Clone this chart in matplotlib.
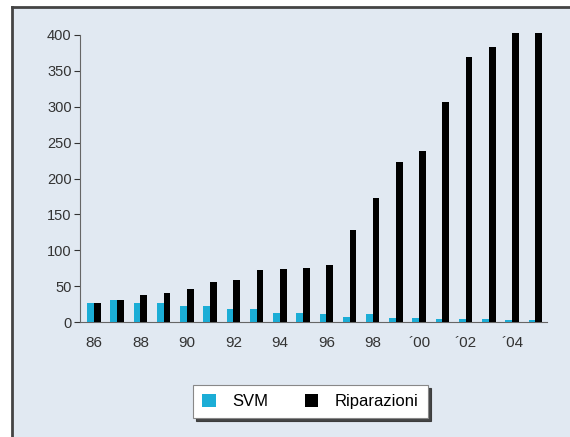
import matplotlib
matplotlib.use('Agg')
from matplotlib import pyplot as plt
from matplotlib.patches import Rectangle
from matplotlib.lines import Line2D
import numpy as np

plt.rcParams['font.family'] = ['Liberation Sans', 'DejaVu Sans']

years = ['86', '87', '88', '89', '90', '91', '92', '93', '94', '95',
         '96', '97', '98', '99', "\u00b400", "\u00b401", "\u00b402", "\u00b403", "\u00b404", "\u00b405"]
svm = [27, 30, 27, 27, 22, 22, 18, 18, 13, 13, 11, 7, 11, 5, 5, 4, 4, 4, 3, 3]
riparazioni = [27, 31, 37, 40, 46, 56, 59, 73, 74, 75,
               80, 128, 173, 223, 238, 307, 370, 383, 403, 403]
yticks = [0, 50, 100, 150, 200, 250, 300, 350, 400]

bg = '#E1E9F2'
cyan = '#1BADD6'

fig = plt.figure(figsize=(5.7, 4.37), dpi=100)
fig.patch.set_facecolor('white')

# pannello azzurro con bordo scuro a sinistra e in alto
x0 = 12 / 570
y1 = 1 - 7 / 437
fig.patches.append(Rectangle((x0, 0), 1 - x0, y1, transform=fig.transFigure,
                             facecolor=bg, edgecolor='none', zorder=-10))
fig.lines.append(Line2D([x0, x0], [0, y1], transform=fig.transFigure, color='#444444', lw=2, zorder=-5))
fig.lines.append(Line2D([x0, 1], [y1, y1], transform=fig.transFigure, color='#444444', lw=2, zorder=-5))

ax = fig.add_axes([80 / 570, 1 - 322 / 437, (547 - 80) / 570, (322 - 35) / 437])
ax.set_zorder(1)
ax.patch.set_visible(False)

x = np.arange(len(years))
w = 0.29
ax.bar(x - w / 2, svm, width=w, color=cyan, label='SVM', clip_on=False, zorder=3)
ax.bar(x + w / 2, riparazioni, width=w, color='black', label='Riparazioni', clip_on=False, zorder=3)

ax.set_xlim(-0.6, 19.5)
ax.set_ylim(0, 400)
ax.set_yticks(yticks)
ax.set_xticks(x[::2])
ax.set_xticklabels(years[::2])
ax.tick_params(axis='x', length=0, pad=10, labelsize=11, colors='#333333')
ax.tick_params(axis='y', length=4, width=0.8, pad=2, labelsize=10.5, colors='#333333',
               direction='out')
for s in ['top', 'right']:
    ax.spines[s].set_visible(False)
for s in ['left', 'bottom']:
    ax.spines[s].set_color('#666666')
    ax.spines[s].set_linewidth(0.8)

leg = fig.legend(loc='center', bbox_to_anchor=(0.5447, 0.0812), ncol=2,
                 fontsize=12, handlelength=0.8, handleheight=0.8,
                 columnspacing=2.2, handletextpad=1.0, fancybox=False,
                 shadow={'color': '#333333', 'alpha': 0.9}, framealpha=1, borderpad=0.55)
leg.get_frame().set_edgecolor('#888888')
leg.get_frame().set_linewidth(0.8)

plt.savefig('out.png', dpi=100, facecolor=fig.get_facecolor())
